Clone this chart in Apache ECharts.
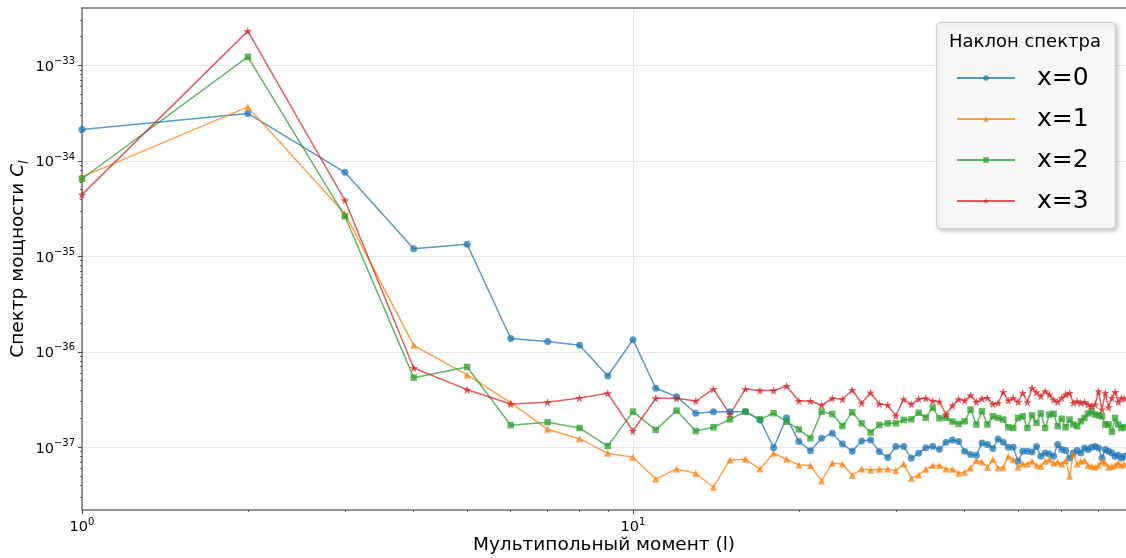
<!DOCTYPE html>
<html><head><meta charset="utf-8">
<script src="https://cdn.jsdelivr.net/npm/echarts@6/dist/echarts.min.js"></script>
<style>html,body{margin:0;padding:0;background:#fff}#chart{width:1126px;height:558px}</style>
</head><body><div id="chart"></div>
<script>
// ---------- data ----------
const multipoles = [1,2,3,4,5,6,7,8,9,10,11,12,13,14,15,16,17,18,19,20,21,22,23,24,25,26,27,28,29,30,31,32,33,34,35,36,37,38,39,40,41,42,43,44,45,46,47,48,49,50,51,52,53,54,55,56,57,58,59,60,61,62,63,64,65,66,67,68,69,70,71,72,73,74,75,76,77,78];
const seriesNames = ['x=0', 'x=1', 'x=2', 'x=3'];
const slope0 = [2.13e-34,3.14e-34,7.6e-35,1.2e-35,1.34e-35,1.38e-36,1.28e-36,1.17e-36,5.58e-37,1.34e-36,
  4.15e-37,3.39e-37,2.27e-37,2.36e-37,2.36e-37,2.36e-37,1.93e-37,9.9e-38,2.04e-37,1.15e-37,
  9.2e-38,1.24e-37,1.40e-37,1.08e-37,9.1e-38,1.16e-37,1.19e-37,9.0e-38,7.8e-38,1.02e-37,
  1.02e-37,7.66e-38,8.65e-38,9.9e-38,1.02e-37,9.5e-38,1.13e-37,1.19e-37,1.15e-37,9.07e-38,
  8.38e-38,8.24e-38,1.11e-37,1.07e-37,9.7e-38,1.22e-37,1.13e-37,1.0e-37,1.0e-37,7.13e-38,
  9.07e-38,9.07e-38,8.93e-38,1.02e-37,8.04e-38,8.72e-38,8.51e-38,8.04e-38,1.07e-37,9.45e-38,
  9.22e-38,7.73e-38,8.72e-38,9.22e-38,8.72e-38,9.83e-38,9.45e-38,1.0e-37,1.02e-37,9.83e-38,
  7.73e-38,9.45e-38,9.07e-38,8.72e-38,8.04e-38,8.24e-38,7.73e-38,8.04e-38];
const slope1 = [6.8e-35,3.68e-34,2.8e-35,1.17e-36,5.72e-37,2.93e-37,1.54e-37,1.23e-37,8.64e-38,7.85e-38,
  4.66e-38,5.93e-38,5.34e-38,3.81e-38,7.36e-38,7.48e-38,5.93e-38,8.64e-38,7.48e-38,6.53e-38,
  6.42e-38,4.44e-38,6.80e-38,6.69e-38,5.05e-38,5.93e-38,5.79e-38,5.88e-38,5.93e-38,5.69e-38,
  6.69e-38,4.73e-38,5.13e-38,5.88e-38,6.42e-38,6.42e-38,5.93e-38,5.88e-38,5.34e-38,5.47e-38,
  6.07e-38,7.25e-38,7.02e-38,6.17e-38,7.42e-38,6.07e-38,6.17e-38,8.04e-38,7.42e-38,6.17e-38,
  6.69e-38,6.69e-38,7.13e-38,6.47e-38,6.32e-38,7.13e-38,7.42e-38,6.85e-38,7.02e-38,6.69e-38,
  7.25e-38,4.97e-38,8.51e-38,6.69e-38,7.13e-38,7.25e-38,6.47e-38,6.32e-38,6.17e-38,6.47e-38,
  7.13e-38,6.85e-38,6.17e-38,6.32e-38,6.47e-38,6.85e-38,6.47e-38,6.69e-38];
const slope2 = [6.5e-35,1.23e-33,2.63e-35,5.36e-37,6.94e-37,1.70e-37,1.83e-37,1.59e-37,1.03e-37,2.36e-37,
  1.52e-37,2.42e-37,1.48e-37,1.62e-37,1.96e-37,2.36e-37,1.96e-37,2.27e-37,1.85e-37,1.54e-37,
  1.24e-37,2.36e-37,2.23e-37,1.67e-37,2.32e-37,1.78e-37,1.43e-37,1.71e-37,1.78e-37,1.78e-37,
  1.93e-37,1.96e-37,2.30e-37,2.04e-37,2.60e-37,2.01e-37,2.04e-37,1.86e-37,1.75e-37,1.87e-37,
  2.48e-37,1.73e-37,2.38e-37,1.73e-37,2.11e-37,2.03e-37,1.95e-37,1.62e-37,1.59e-37,2.03e-37,
  2.11e-37,1.59e-37,2.16e-37,1.80e-37,2.26e-37,1.59e-37,2.20e-37,2.24e-37,1.66e-37,1.99e-37,
  1.62e-37,1.95e-37,1.73e-37,1.66e-37,1.87e-37,2.03e-37,2.26e-37,2.38e-37,2.20e-37,2.16e-37,
  2.11e-37,1.73e-37,1.73e-37,1.45e-37,2.03e-37,1.73e-37,1.59e-37,1.62e-37];
const slope3 = [4.43e-35,2.29e-33,3.87e-35,6.76e-37,4.01e-37,2.84e-37,2.96e-37,3.28e-37,3.67e-37,1.48e-37,
  3.26e-37,3.26e-37,3.05e-37,4.08e-37,2.21e-37,4.08e-37,3.92e-37,3.92e-37,4.38e-37,3.05e-37,
  3.05e-37,2.75e-37,3.26e-37,3.18e-37,3.98e-37,2.89e-37,3.73e-37,2.84e-37,2.77e-37,2.13e-37,
  3.18e-37,2.82e-37,3.20e-37,3.26e-37,3.05e-37,3.00e-37,2.21e-37,2.73e-37,3.18e-37,3.08e-37,
  3.50e-37,2.98e-37,3.23e-37,3.28e-37,2.84e-37,2.91e-37,3.79e-37,3.08e-37,3.28e-37,2.98e-37,
  3.70e-37,2.96e-37,4.18e-37,3.76e-37,3.42e-37,3.86e-37,3.56e-37,3.15e-37,2.98e-37,3.28e-37,
  3.56e-37,3.70e-37,2.91e-37,3.03e-37,2.91e-37,2.98e-37,2.80e-37,2.69e-37,2.80e-37,3.86e-37,
  2.48e-37,3.70e-37,2.62e-37,3.28e-37,3.79e-37,2.98e-37,3.28e-37,3.23e-37];
const xTickExponents = [0, 1];
const yTickExponents = [-37, -36, -35, -34, -33];
const minorMantissas = [2, 3, 4, 5, 6, 7, 8, 9];
const xRange = [1, 78.5];
const yRange = [2.2e-38, 4.0e-33];

// ---------- styling ----------
const FONT = 'DejaVu Sans';
const colors = ['#1f77b4', '#ff7f0e', '#2ca02c', '#d62728'];
const STAR = 'path://M0,-10L2.35,-3.24L9.51,-3.09L3.8,1.24L5.88,8.09L0,4L-5.88,8.09L-3.8,1.24L-9.51,-3.09L-2.35,-3.24Z';
const symbols = ['circle', 'triangle', 'rect', STAR];
const symbolSizes = [7, 7, 6.5, 8.5];
const allSeries = [slope0, slope1, slope2, slope3];

const lg = Math.log10;
function minorTicks(lo, hi) {
  const out = [];
  for (let e = Math.floor(lo); e <= Math.ceil(hi); e++) {
    for (const m of minorMantissas) {
      const v = e + lg(m);
      if (v > lo && v < hi) out.push(v);
    }
  }
  return out;
}
function supText(v) {
  const e = Math.round(v);
  return e < 0 ? '\u2212' + Math.abs(e) : String(e);
}
const tickRich = {
  b: { fontFamily: FONT, fontSize: 14.5, color: '#000', lineHeight: 18, verticalAlign: 'bottom' },
  s: { fontFamily: FONT, fontSize: 10, color: '#000', lineHeight: 11, verticalAlign: 'top' }
};
const spine = { show: true, onZero: false, lineStyle: { color: '#707070', width: 1.5 } };
const gridLine = { show: true, lineStyle: { color: '#e6e6e6', width: 1 } };

const xMin = lg(xRange[0]), xMax = lg(xRange[1]);
const yMin = lg(yRange[0]), yMax = lg(yRange[1]);

const chart = echarts.init(document.getElementById('chart'), null, { renderer: 'canvas' });
chart.setOption({
  animation: false,
  backgroundColor: '#ffffff',
  grid: { left: 82, right: 0, top: 8, bottom: 48, containLabel: false, outerBoundsMode: 'none' },
  xAxis: [
    {
      type: 'value', min: xMin, max: xMax, position: 'bottom', minInterval: 1, maxInterval: 1,
      axisLine: spine,
      axisTick: { show: true, customValues: xTickExponents, length: 4, lineStyle: { color: '#444', width: 1 } },
      axisLabel: { customValues: xTickExponents, margin: 7, formatter: v => '{b|10}{s|' + supText(v) + '}', rich: tickRich },
      splitLine: gridLine,
      name: 'Мультипольный момент (l)', nameLocation: 'middle', nameGap: 26, nameMoveOverlap: false,
      nameTextStyle: { fontFamily: FONT, fontSize: 18.5, color: '#000' }
    },
    {
      type: 'value', min: xMin, max: xMax, position: 'bottom', minInterval: 1, maxInterval: 1,
      axisLine: { show: false },
      axisTick: { show: true, customValues: minorTicks(xMin, xMax), length: 2, lineStyle: { color: '#444', width: 0.8 } },
      axisLabel: { show: false }, splitLine: { show: false }
    },
    {
      type: 'value', min: xMin, max: xMax, position: 'top', minInterval: 1, maxInterval: 1,
      axisLine: spine, axisTick: { show: false }, axisLabel: { show: false }, splitLine: { show: false }
    }
  ],
  yAxis: [
    {
      type: 'value', min: yMin, max: yMax, position: 'left', minInterval: 1, maxInterval: 1,
      axisLine: spine,
      axisTick: { show: true, customValues: yTickExponents, length: 4, lineStyle: { color: '#444', width: 1 } },
      axisLabel: { customValues: yTickExponents, margin: 7, formatter: v => '{b|10}{s|' + supText(v) + '}', rich: tickRich },
      splitLine: gridLine,
      name: 'Спектр мощности {i|C}{sub|l}', nameLocation: 'middle', nameRotate: 90, nameGap: 51, nameMoveOverlap: false,
      nameTextStyle: {
        fontFamily: FONT, fontSize: 18.5, color: '#000', lineHeight: 26,
        rich: {
          i: { fontFamily: FONT, fontStyle: 'italic', fontSize: 18.5, color: '#000', lineHeight: 26 },
          sub: { fontFamily: FONT, fontStyle: 'italic', fontSize: 13, color: '#000', lineHeight: 14, verticalAlign: 'bottom' }
        }
      }
    },
    {
      type: 'value', min: yMin, max: yMax, position: 'left', offset: 0, minInterval: 1, maxInterval: 1,
      axisLine: { show: false },
      axisTick: { show: true, customValues: minorTicks(yMin, yMax), length: 2, lineStyle: { color: '#444', width: 0.8 } },
      axisLabel: { show: false }, splitLine: { show: false }
    }
  ],
  legend: {
    data: seriesNames, orient: 'vertical', left: 956, top: 63, z: 10, padding: 0,
    itemWidth: 58, itemHeight: 7, itemGap: 11, selectedMode: false,
    textStyle: { fontFamily: FONT, fontSize: 25, color: '#000', lineHeight: 30, padding: [0, 0, 0, 17] }
  },
  graphic: [
    {
      type: 'rect', left: 936, top: 22, z: 3,
      shape: { width: 179, height: 206, r: 4 },
      style: { fill: 'rgba(255,255,255,0.85)', stroke: '#cccccc', lineWidth: 1,
               shadowBlur: 4, shadowOffsetX: 2, shadowOffsetY: 2, shadowColor: 'rgba(0,0,0,0.25)' }
    },
    {
      type: 'text', x: 1025, y: 42, z: 10,
      style: { text: 'Наклон спектра', font: '18px "DejaVu Sans"', fill: '#000', textAlign: 'center', textVerticalAlign: 'middle' }
    }
  ],
  series: allSeries.map((vals, k) => ({
    name: seriesNames[k], type: 'line', xAxisIndex: 0, yAxisIndex: 0,
    data: multipoles.map((l, i) => [lg(l), lg(vals[i])]),
    symbol: symbols[k], symbolSize: symbolSizes[k], showSymbol: true, clip: true,
    lineStyle: { color: colors[k], width: 1.5, opacity: 0.75 },
    itemStyle: { color: colors[k], opacity: 0.75 },
    emphasis: { disabled: true }
  }))
});
</script>
</body></html>
